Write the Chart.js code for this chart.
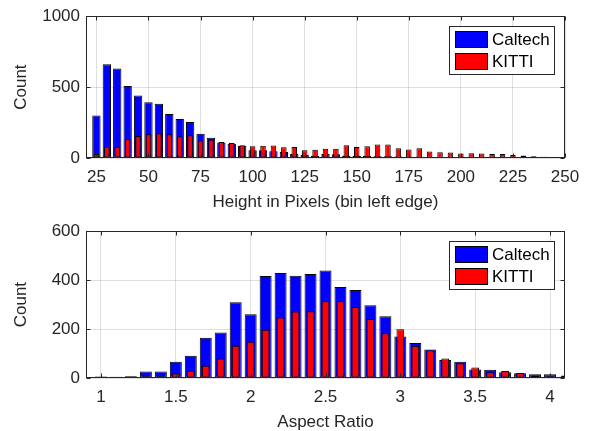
<!DOCTYPE html>
<html><head><meta charset="utf-8">
<script src="https://cdn.jsdelivr.net/npm/chart.js@4.4.0/dist/chart.umd.min.js"></script>
<style>
html,body{margin:0;padding:0;overflow:hidden;background:#fff;width:592px;height:431px;}
canvas{position:absolute;left:0;}
#c1{top:0;}
#c2{top:215px;}
</style></head><body>
<canvas id="c1" width="592" height="215"></canvas>
<canvas id="c2" width="592" height="220"></canvas>
<script>
// ---- data ----
const heightBins = [25,30,35,40,45,50,55,60,65,70,75,80,85,90,95,100,105,110,115,120,125,130,135,140,145,150,155,160,165,170,175,180,185,190,195,200,205,210,215,220,225,230,235,240,245,250];
const caltechHeight = [300,662,631,507,441,394,383,310,275,254,171,143,110,100,85,54,54,47,42,28,23,16,28,26,16,16,14,12,12,10,8,8,7,6,6,5,5,5,4,4,4,4,4,9,7,5];
const kittiHeight = [28,80,80,134,155,167,174,167,153,160,124,129,113,106,90,82,87,89,76,77,54,59,65,65,90,77,82,96,96,68,60,68,45,41,39,31,33,31,28,28,22,18,13,5,4,3];
const heightTicks = [25,50,75,100,125,150,175,200,225,250];
const heightCountTicks = [0,500,1000];

const ratioBins = [1.0,1.1,1.2,1.3,1.4,1.5,1.6,1.7,1.8,1.9,2.0,2.1,2.2,2.3,2.4,2.5,2.6,2.7,2.8,2.9,3.0,3.1,3.2,3.3,3.4,3.5,3.6,3.7,3.8,3.9,4.0,4.1];
const caltechRatio = [6,5,7,27,27,66,91,164,186,310,261,417,429,418,425,439,372,360,297,252,170,143,116,74,66,35,34,24,19,15,15,5];
const kittiRatio = [3,4,5,7,7,18,30,50,80,132,148,197,247,272,273,314,314,290,241,183,199,131,113,80,60,43,24,29,20,10,7,10];
const ratioTicks = [1,1.5,2,2.5,3,3.5,4];
const ratioCountTicks = [0,200,400,600];

const seriesNames = ['Caltech','KITTI'];
const seriesColors = ['#0000ff','#ff0000'];

Chart.defaults.font.family = "'Liberation Sans', Arial, sans-serif";
Chart.defaults.font.size = 17;
Chart.defaults.color = '#262626';

const boxPlugin = {
  id: 'matlabBox',
  afterDatasetsDraw(chart) {
    const {ctx, chartArea: a, scales} = chart;
    ctx.save();
    ctx.strokeStyle = '#262626';
    ctx.lineWidth = 1;
    const L = Math.round(a.left) + 0.5, R = Math.round(a.right) - 0.5;
    const T = Math.round(a.top) + 0.5, B = Math.round(a.bottom) - 0.5;
    ctx.strokeRect(L, T, R - L, B - T);
    const tl = 4;
    ctx.beginPath();
    scales.x.ticks.forEach(t => {
      const px = Math.round(scales.x.getPixelForValue(t.value)) + 0.5;
      ctx.moveTo(px, B); ctx.lineTo(px, B - tl);
      ctx.moveTo(px, T); ctx.lineTo(px, T + tl);
    });
    scales.y.ticks.forEach(t => {
      const py = Math.round(scales.y.getPixelForValue(t.value)) + 0.5;
      ctx.moveTo(L, py); ctx.lineTo(L + tl, py);
      ctx.moveTo(R, py); ctx.lineTo(R - tl, py);
    });
    ctx.stroke();
    // legend
    const bw = 105, bh = 48;
    const bx = Math.round(a.right) - 11 - bw, by = Math.round(a.top) + 10;
    ctx.fillStyle = '#fff';
    ctx.fillRect(bx, by, bw, bh);
    ctx.strokeStyle = '#262626';
    ctx.strokeRect(bx + 0.5, by + 0.5, bw, bh);
    chart.data.datasets.forEach((d, i) => {
      const sy = by + 5 + i * 22;
      ctx.fillStyle = d.backgroundColor;
      ctx.fillRect(bx + 6, sy, 33, 17);
      ctx.strokeStyle = '#000';
      ctx.strokeRect(bx + 6.5, sy + 0.5, 32, 16);
      ctx.fillStyle = '#000';
      ctx.font = "17px 'Liberation Sans', Arial, sans-serif";
      ctx.textBaseline = 'middle';
      ctx.textAlign = 'left';
      ctx.fillText(d.label, bx + 43, sy + 9);
    });
    ctx.restore();
  }
};

function makeChart(id, bins, sA, sB, xMin, xMax, xTicks, yMax, yTicks, xTitle, axisH, widths) {
  const vals = [sA, sB];
  return new Chart(document.getElementById(id), {
    type: 'bar',
    data: {
      datasets: seriesNames.map((name, k) => ({
        label: name,
        data: bins.map((x, i) => ({x: x, y: vals[k][i]})),
        backgroundColor: seriesColors[k],
        borderColor: '#000',
        borderWidth: 1,
        borderSkipped: false,
        grouped: false,
        categoryPercentage: 1,
        barPercentage: widths[k],
        order: k === 0 ? 2 : 1,
        clip: 0
      }))
    },
    options: {
      responsive: false,
      animation: false,
      devicePixelRatio: 1,
      layout: {padding: {left: 0, right: 27, top: 16, bottom: 0}},
      plugins: {legend: {display: false}, tooltip: {enabled: false}},
      scales: {
        x: {
          type: 'linear', min: xMin, max: xMax, offset: false,
          afterBuildTicks: s => { s.ticks = xTicks.map(v => ({value: v})); },
          afterFit: s => { s.height = axisH; },
          ticks: {padding: 9, autoSkip: false, maxRotation: 0, callback: v => String(v)},
          grid: {color: 'rgba(38,38,38,0.15)', drawTicks: false, offset: false},
          border: {display: false},
          title: {display: true, text: xTitle, padding: {top: 0, bottom: 2}}
        },
        y: {
          min: 0, max: yMax,
          afterBuildTicks: s => { s.ticks = yTicks.map(v => ({value: v})); },
          afterFit: s => { s.width = 86; },
          ticks: {padding: 6, callback: v => String(v)},
          grid: {color: 'rgba(38,38,38,0.15)', drawTicks: false},
          border: {display: false},
          title: {display: true, text: 'Count', padding: {top: 11, bottom: 0}}
        }
      }
    },
    plugins: [boxPlugin]
  });
}

makeChart('c1', heightBins, caltechHeight, kittiHeight, 20, 250, heightTicks, 1000, heightCountTicks,
  'Height in Pixels (bin left edge)', 57, [0.8, 0.53]);
makeChart('c2', ratioBins, caltechRatio, kittiRatio, 0.9, 4.1, ratioTicks, 600, ratioCountTicks,
  'Aspect Ratio', 57, [0.8, 0.52]);
</script>
</body></html>
